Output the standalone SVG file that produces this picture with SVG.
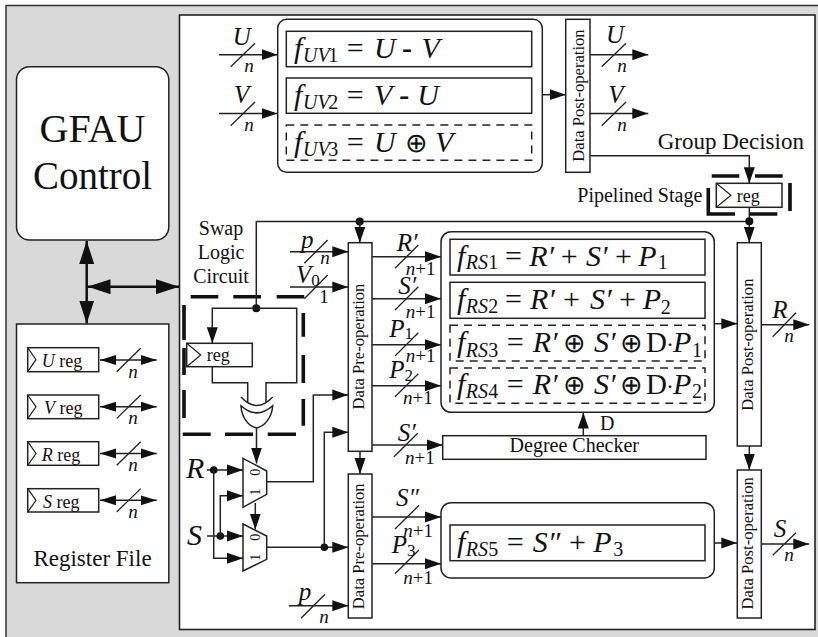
<svg xmlns="http://www.w3.org/2000/svg" width="818" height="637" viewBox="0 0 818 637">
<style>
text{font-family:"Liberation Serif","Times New Roman",serif;fill:#111}
.i{font-style:italic}
.r{font-style:normal}
.f{font-size:30px}
.sb{font-size:20px}
.x{font-size:27px;font-style:normal;font-family:"DejaVu Sans",sans-serif;font-weight:200}
.l{font-size:25px}
.n{font-size:19px;font-style:italic}
.m{font-size:20px}
.d{font-size:16.6px}
.ctr{text-anchor:middle}
.box{fill:#fff;stroke:#222;stroke-width:1.5}
.none{fill:none;stroke:#222;stroke-width:1.5}
.dash{fill:#fff;stroke:#222;stroke-width:1.5;stroke-dasharray:8 6}
.clk{fill:none;stroke:#222;stroke-width:1.2}
.w{fill:none;stroke:#222;stroke-width:1.5}
.wa{fill:none;stroke:#222;stroke-width:1.5;marker-end:url(#a)}
.th{fill:none;stroke:#111;stroke-width:2.5;marker-start:url(#b);marker-end:url(#b)}
.bd{fill:none;stroke:#111;stroke-width:3.6}
.s{stroke:#222;stroke-width:1.3}
.db{fill:#111}
</style>
<defs>
<marker id="a" markerUnits="userSpaceOnUse" markerWidth="16" markerHeight="12" refX="16" refY="6" orient="auto"><path d="M0,0.5 L16,6 L0,11.5 z" fill="#111"/></marker>
<marker id="b" markerUnits="userSpaceOnUse" markerWidth="23" markerHeight="16" refX="23" refY="8" orient="auto-start-reverse"><path d="M0,0.5 L23,8 L0,15.5 z" fill="#111"/></marker>
<marker id="c" markerUnits="userSpaceOnUse" markerWidth="16" markerHeight="12" refX="16" refY="6" orient="auto-start-reverse"><path d="M0,1 L16,6 L0,11 z" fill="#111"/></marker>
</defs>

<rect x="6" y="5.5" width="814" height="640" fill="#d9d9d9" stroke="#333" stroke-width="1.5"/>
<rect id="datapath-panel" x="179.5" y="15" width="635.5" height="614.5" fill="#fff" stroke="#222" stroke-width="1.6"/>

<g id="gfau-control">
<rect class="box" x="16.5" y="66.7" width="152.3" height="173.3" rx="13"/>
<text class="ctr" x="92.5" y="141.7" font-size="40">GFAU</text>
<text class="ctr" x="92.5" y="189" font-size="39">Control</text>
</g>

<g id="register-file">
<rect class="box" x="16.5" y="324" width="152.3" height="258.7"/>
<rect class="box" x="27.7" y="347.7" width="71" height="24"/><path class="clk" d="M27.7,347.7 L36,359.7 L27.7,371.7"/>
<text x="41.7" y="367" font-size="18"><tspan class="i">U</tspan> reg</text>
<rect class="box" x="27.7" y="395" width="71" height="23.7"/><path class="clk" d="M27.7,395 L36,406.8 L27.7,418.7"/>
<text x="44" y="414" font-size="18"><tspan class="i">V</tspan> reg</text>
<rect class="box" x="27.7" y="441.7" width="71" height="23.6"/><path class="clk" d="M27.7,441.7 L36,453.5 L27.7,465.3"/>
<text x="41.7" y="460.5" font-size="18"><tspan class="i">R</tspan> reg</text>
<rect class="box" x="27.7" y="488.7" width="71" height="23.3"/><path class="clk" d="M27.7,488.7 L36,500.3 L27.7,512"/>
<text x="43" y="507.5" font-size="18"><tspan class="i">S</tspan> reg</text>
<text class="ctr" x="92.5" y="566" font-size="23">Register File</text>
</g>

<g id="uv-functions">
<rect class="box" x="277.7" y="19.3" width="264.6" height="153" rx="9"/>
<rect class="box" x="286.3" y="31.3" width="245.4" height="35.4"/>
<rect class="box" x="286.3" y="78" width="245.4" height="35.3"/>
<rect class="dash" x="286.3" y="125" width="245.4" height="35.3"/>
<text class="f i" y="58.3"><tspan x="294">f</tspan><tspan class="sb" x="303" y="62.3">UV</tspan><tspan class="sb r" x="328.3">1</tspan><tspan class="r" x="346.7" y="58.3">=</tspan><tspan x="374">U</tspan><tspan class="r" x="402" font-weight="bold">-</tspan><tspan x="421.5">V</tspan></text>
<text class="f i" y="105"><tspan x="294">f</tspan><tspan class="sb" x="303" y="109">UV</tspan><tspan class="sb r" x="328.3">2</tspan><tspan class="r" x="346.7" y="105">=</tspan><tspan x="374">V</tspan><tspan class="r" x="399.3" font-weight="bold">-</tspan><tspan x="417.3">U</tspan></text>
<text class="f i" y="152.3"><tspan x="294">f</tspan><tspan class="sb" x="303" y="156">UV</tspan><tspan class="sb r" x="328.3">3</tspan><tspan class="r" x="346.7" y="152.3">=</tspan><tspan x="374">U</tspan><tspan class="x" x="404.5">⊕</tspan><tspan x="435">V</tspan></text>
</g>

<g id="post-op-uv">
<rect class="box" x="565.7" y="19.3" width="24.3" height="153"/>
<text class="d ctr" transform="translate(584.3,95.5) rotate(-90)">Data Post-operation</text>
</g>

<g id="pipeline-reg">
<rect class="box" x="716.3" y="183.3" width="65.7" height="24"/>
<path class="clk" d="M716.3,183.3 L731,195.3 L716.3,207.3"/>
<text x="736.7" y="201.7" font-size="18">reg</text>
<text x="577.3" y="201.7" font-size="20">Pipelined Stage</text>
<path class="bd" d="M711.7,176 H739.3 M755,176 H782.7 M790,183 V211 M708.3,188 V214 H735 M750,214 H777.3"/>
<text x="657.7" y="149" font-size="23">Group Decision</text>
</g>

<g id="swap-logic">
<text class="ctr m" x="221" y="235">Swap</text>
<text class="ctr m" x="221" y="259.3">Logic</text>
<text class="ctr m" x="221" y="282.7">Circuit</text>
<path class="bd" d="M190.7,296.7 H218.3 M233.3,296.7 H261 M276.7,296.7 H304.3 M184,305 V340 M184,348 V375 M184,390 V418 M303.3,313 V336.7 M303.3,355 V383 M303.3,399 V425.7 M182.7,434.3 H210.7 M225,434.3 H253 M267.7,434.3 H296"/>
<rect class="box" x="186.7" y="343.3" width="65.6" height="23.4"/>
<path class="clk" d="M186.7,343.3 L200.7,355 L186.7,366.7"/>
<text x="206.7" y="361" font-size="18">reg</text>
<path class="box" d="M241,405.7 Q256.7,420 272.7,405.7 C272,417 265,426 256.7,428 C248,426 241.5,417 241,405.7 z"/>
<path class="none" d="M241,397 Q256.7,414 272.7,397"/>
</g>

<g id="mux-top">
<path class="box" d="M243,458.3 L266.7,471 V494.3 L243,507.3 z"/>
<text class="ctr" font-size="14" transform="translate(260,472.3) rotate(-90)">0</text>
<text class="ctr" font-size="14" transform="translate(260,492) rotate(-90)">1</text>
</g>
<g id="mux-bottom">
<path class="box" d="M243,524 L266.7,536 V559.3 L243,571 z"/>
<text class="ctr" font-size="14" transform="translate(260,537.3) rotate(-90)">0</text>
<text class="ctr" font-size="14" transform="translate(260,557.3) rotate(-90)">1</text>
</g>

<g id="pre-op-upper">
<rect class="box" x="348.3" y="242.7" width="23.7" height="208.6"/>
<text class="d ctr" transform="translate(364.3,346.5) rotate(-90)">Data Pre-operation</text>
</g>
<g id="pre-op-lower">
<rect class="box" x="348.3" y="474" width="23.7" height="144"/>
<text class="d ctr" transform="translate(364.3,546.3) rotate(-90)">Data Pre-operation</text>
</g>

<g id="rs-functions">
<rect class="box" x="441" y="231.7" width="273.3" height="180.6" rx="10"/>
<rect class="box" x="450" y="239.3" width="255" height="35.7"/>
<rect class="box" x="450" y="282.3" width="255" height="36"/>
<rect class="dash" x="450" y="325.3" width="255" height="35.7"/>
<rect class="dash" x="450" y="368" width="255" height="35.3"/>
<text class="f i" y="266"><tspan x="457">f</tspan><tspan class="sb" x="465.7" y="269.3">RS</tspan><tspan class="sb r" x="488.3">1</tspan><tspan class="r" x="505" y="266">=</tspan><tspan x="529.3">R′</tspan><tspan class="r" x="560.7">+</tspan><tspan x="586">S′</tspan><tspan class="r" x="615">+</tspan><tspan x="638.3">P</tspan><tspan class="sb r" x="657.7" y="269.3">1</tspan></text>
<text class="f i" y="309.3"><tspan x="457">f</tspan><tspan class="sb" x="465.7" y="313.3">RS</tspan><tspan class="sb r" x="488.3">2</tspan><tspan class="r" x="505" y="309.3">=</tspan><tspan x="530">R′</tspan><tspan class="r" x="563">+</tspan><tspan x="590">S′</tspan><tspan class="r" x="619">+</tspan><tspan x="642.7">P</tspan><tspan class="sb r" x="660.7" y="314">2</tspan></text>
<text class="f i" y="352.3"><tspan x="457">f</tspan><tspan class="sb" x="465.7" y="356.7">RS</tspan><tspan class="sb r" x="488.3">3</tspan><tspan class="r" x="506.7" y="352.3">=</tspan><tspan x="532.7">R′</tspan><tspan class="x" x="563">⊕</tspan><tspan x="594">S′</tspan><tspan class="x" x="619.5">⊕</tspan><tspan class="r" x="646" font-size="29">D</tspan><tspan class="r" x="666" font-size="24">·</tspan><tspan x="673">P</tspan><tspan class="sb r" x="692" y="356.7">1</tspan></text>
<text class="f i" y="394.3"><tspan x="457">f</tspan><tspan class="sb" x="465.7" y="398.3">RS</tspan><tspan class="sb r" x="488.3">4</tspan><tspan class="r" x="506.7" y="394.3">=</tspan><tspan x="532.7">R′</tspan><tspan class="x" x="563">⊕</tspan><tspan x="594">S′</tspan><tspan class="x" x="619.5">⊕</tspan><tspan class="r" x="646" font-size="29">D</tspan><tspan class="r" x="666" font-size="24">·</tspan><tspan x="673">P</tspan><tspan class="sb r" x="692" y="398.3">2</tspan></text>
</g>

<g id="rs5-function">
<rect class="box" x="441" y="502.7" width="273.3" height="75.3" rx="10"/>
<rect class="box" x="450" y="525" width="255" height="35.7"/>
<text class="f i" y="551.7"><tspan x="457">f</tspan><tspan class="sb" x="465.7" y="555.7">RS</tspan><tspan class="sb r" x="488.3">5</tspan><tspan class="r" x="506.7" y="551.7">=</tspan><tspan x="532.7">S″</tspan><tspan class="r" x="569">+</tspan><tspan x="593.3">P</tspan><tspan class="sb r" x="613.3" y="555.7">3</tspan></text>
</g>

<g id="degree-checker">
<rect class="box" x="442.7" y="435.7" width="263.3" height="23.6"/>
<text class="ctr m" x="574.3" y="452.3">Degree Checker</text>
</g>

<g id="post-op-r">
<rect class="box" x="737.3" y="242.7" width="24" height="203.3"/>
<text class="d ctr" transform="translate(753.3,344.7) rotate(-90)">Data Post-operation</text>
</g>
<g id="post-op-s">
<rect class="box" x="737.3" y="470" width="24" height="148"/>
<text class="d ctr" transform="translate(753.3,543.3) rotate(-90)">Data Post-operation</text>
</g>

<g id="connectors">
<path class="th" d="M86.7,241 V323.5"/>
<path class="th" d="M87.5,286.7 H179"/>
<path class="w" d="M100,360 H156.7" marker-start="url(#c)" marker-end="url(#c)"/>
<path class="w" d="M100,406.7 H156.7" marker-start="url(#c)" marker-end="url(#c)"/>
<path class="w" d="M100,453.5 H156.7" marker-start="url(#c)" marker-end="url(#c)"/>
<path class="w" d="M100,500.3 H156.7" marker-start="url(#c)" marker-end="url(#c)"/>
<path class="wa" d="M219,54.7 H277.5"/>
<path class="wa" d="M219,113.5 H277.5"/>
<path class="wa" d="M542.3,94.7 H565.7"/>
<path class="wa" d="M590,54.7 H648.3"/>
<path class="wa" d="M590,113.5 H648.3"/>
<path class="wa" d="M590,155.7 H749.3 V183.3"/>
<path class="wa" d="M749.3,207.3 V242.7"/>
<path class="w" d="M256.3,308.3 V221.5 H749.3"/>
<circle class="db" cx="749.3" cy="221.3" r="4"/>
<circle class="db" cx="359.7" cy="221.5" r="4"/>
<circle class="db" cx="256.3" cy="308.3" r="4"/>
<path class="wa" d="M359.8,221.5 V242.7"/>
<path class="wa" d="M256.3,308.3 H212.3 V343.3"/>
<path class="w" d="M256.3,308.3 H296.7 V382.7 H266 V402"/>
<path class="w" d="M212.3,366.7 V382.7 H247.7 V402"/>
<path class="wa" d="M256.5,428 V463.5"/>
<path class="wa" d="M207,470 H243"/>
<circle class="db" cx="213.7" cy="470" r="3.8"/>
<path class="wa" d="M213.7,470 V558.3 H243"/>
<path class="wa" d="M207,536 H243"/>
<circle class="db" cx="220.3" cy="536" r="3.8"/>
<path class="wa" d="M220.3,536 V495.7 H243"/>
<path class="wa" d="M255.3,503 V529.5"/>
<path class="wa" d="M266.7,481.7 H313.3 V395 H348.3"/>
<path class="wa" d="M266.7,547.3 H348.3"/>
<circle class="db" cx="324.3" cy="547.3" r="3.8"/>
<path class="wa" d="M324.3,547.3 V432.3 H348.3"/>
<path class="wa" d="M360,451.3 V474"/>
<path class="wa" d="M290,251.7 H348.3"/>
<path class="wa" d="M290,287 H348.3"/>
<path class="wa" d="M289,605.7 H348.3"/>
<path class="wa" d="M372,256.7 H441"/>
<path class="wa" d="M372,298.7 H441"/>
<path class="wa" d="M372,344.7 H441"/>
<path class="wa" d="M372,385.7 H441"/>
<path class="wa" d="M372,445 H442.7"/>
<path class="wa" d="M372,517 H441"/>
<path class="wa" d="M372,563.7 H441"/>
<path class="wa" d="M583.3,435.7 V412.5"/>
<path class="wa" d="M714.3,323.7 H737.3"/>
<path class="wa" d="M714.3,543 H737.3"/>
<path class="wa" d="M761.3,324.7 H809.3"/>
<path class="wa" d="M761.3,544 H809.3"/>
<path class="wa" d="M749.3,446 V470"/>
<path class="s" fill="none" d="M116.7,371.7 L140.7,348.3 M116.7,418.4 L140.7,395 M116.7,465.2 L140.7,441.8 M116.7,512 L140.7,488.6 M230.7,66.7 L255,43.3 M230.7,125.7 L255,102 M601.7,66.7 L626,43.3 M601.7,125.7 L626,102 M304.3,263.3 L327.7,240 M304.3,298.7 L327.7,275 M395,268.3 L418.3,245 M395,310 L418.3,286.7 M395,356 L418.3,332.7 M395,396.7 L418.3,373.7 M394,456.7 L417.7,433.3 M395,529 L419,505.3 M395,573.7 L419,550 M301,618.3 L325,594.3 M772.7,336.7 L796,312.7 M772.7,555.3 L796,532.7"/>
</g>

<g id="labels">
<text class="n ctr" x="133" y="377.7">n</text>
<text class="n ctr" x="133" y="424.4">n</text>
<text class="n ctr" x="133" y="471.2">n</text>
<text class="n ctr" x="133" y="518">n</text>
<text class="l i ctr" x="241.7" y="45">U</text>
<text class="n ctr" x="249" y="72.3">n</text>
<text class="l i ctr" x="241.7" y="103.3">V</text>
<text class="n ctr" x="249" y="130.7">n</text>
<text class="l i ctr" x="615" y="42.7">U</text>
<text class="n ctr" x="622" y="72.3">n</text>
<text class="l i ctr" x="616" y="102.7">V</text>
<text class="n ctr" x="622" y="130.7">n</text>
<text class="l i ctr" x="307.3" y="248">p</text>
<text class="n ctr" x="325" y="264">n</text>
<text class="l i" x="296" y="282.7">V<tspan class="r" font-size="17" dy="3.3">0</tspan></text>
<text class="ctr" font-size="19" x="324" y="303.3">1</text>
<text class="l i" x="396.7" y="250.7">R′</text>
<text class="i" font-size="19" x="405.7" y="275">n<tspan class="r">+1</tspan></text>
<text class="l i" x="398.3" y="294">S′</text>
<text class="i" font-size="19" x="405.7" y="317.7">n<tspan class="r">+1</tspan></text>
<text class="l i" x="389.3" y="336.7">P<tspan class="r" font-size="17" dy="2.5">1</tspan></text>
<text class="i" font-size="19" x="405.7" y="362.3">n<tspan class="r">+1</tspan></text>
<text class="l i" x="389.3" y="377.7">P<tspan class="r" font-size="17" dy="3.3">2</tspan></text>
<text class="i" font-size="19" x="403" y="404.3">n<tspan class="r">+1</tspan></text>
<text class="l i" x="397.7" y="441">S′</text>
<text class="i" font-size="19" x="405" y="464">n<tspan class="r">+1</tspan></text>
<text class="l i" x="396" y="506">S″</text>
<text class="i" font-size="19" x="403.3" y="536.7">n<tspan class="r">+1</tspan></text>
<text class="l i" x="391.7" y="552.7">P<tspan class="r" font-size="17" dy="3.3">3</tspan></text>
<text class="i" font-size="19" x="403.3" y="584">n<tspan class="r">+1</tspan></text>
<text class="l i ctr" x="305" y="600">p</text>
<text class="n ctr" x="324" y="623">n</text>
<text class="m" x="600" y="430" font-size="22">D</text>
<text class="l i ctr" x="780" y="317.7">R</text>
<text class="n ctr" x="789" y="341.7">n</text>
<text class="l i ctr" x="780" y="536.7">S</text>
<text class="n ctr" x="789" y="561">n</text>
<text class="i" x="186" y="478.3" font-size="30">R</text>
<text class="i" x="187" y="545" font-size="30">S</text>
</g>
</svg>
